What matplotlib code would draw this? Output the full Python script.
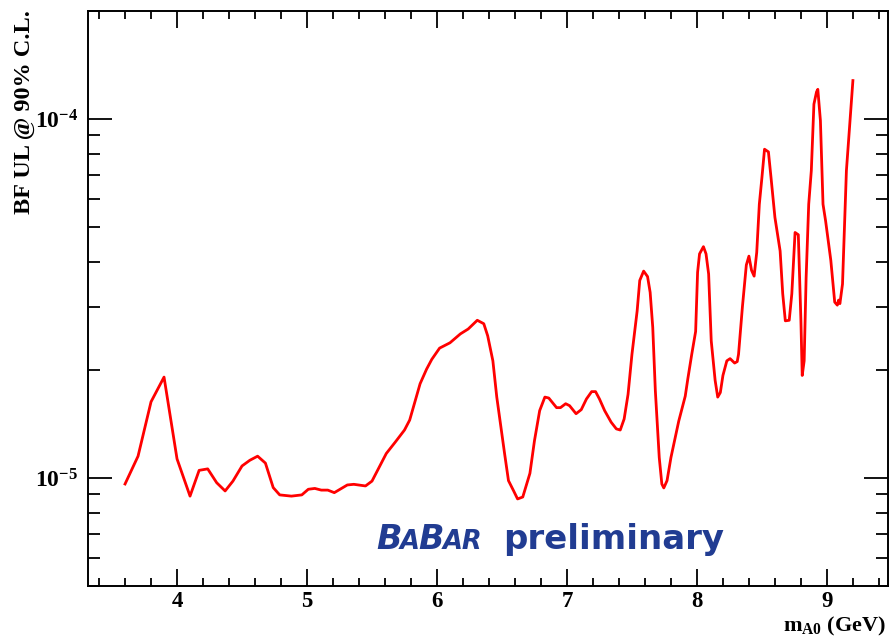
import math
import matplotlib
matplotlib.use("Agg")
import matplotlib.pyplot as plt
from matplotlib.ticker import LogLocator, MultipleLocator, FixedLocator, FuncFormatter, NullFormatter

# m_A0 (GeV)
mass = [3.60, 3.70, 3.80, 3.90, 4.00, 4.10, 4.17, 4.236, 4.305, 4.37,
        4.43, 4.50, 4.56, 4.62, 4.68, 4.74, 4.79, 4.88, 4.96, 5.01,
        5.06, 5.11, 5.16, 5.21, 5.31, 5.36, 5.45, 5.50, 5.61, 5.68,
        5.75, 5.79, 5.87, 5.92, 5.96, 6.02, 6.10, 6.18, 6.24, 6.31,
        6.36, 6.39, 6.43, 6.46, 6.52, 6.55, 6.59, 6.62, 6.66, 6.715,
        6.75, 6.79, 6.83, 6.86, 6.92, 6.95, 6.99, 7.02, 7.07, 7.11,
        7.15, 7.19, 7.22, 7.25, 7.29, 7.34, 7.38, 7.41, 7.44, 7.47,
        7.50, 7.54, 7.56, 7.59, 7.62, 7.64, 7.66, 7.68, 7.71, 7.73,
        7.745, 7.77, 7.80, 7.86, 7.91, 7.93, 7.96, 7.99, 8.005, 8.02,
        8.05, 8.07, 8.09, 8.11, 8.14, 8.16, 8.18, 8.20, 8.23, 8.255,
        8.29, 8.31, 8.32, 8.35, 8.38, 8.40, 8.42, 8.44, 8.46, 8.48,
        8.50, 8.52, 8.55, 8.57, 8.60, 8.64, 8.66, 8.68, 8.71, 8.73,
        8.755, 8.78, 8.80, 8.81, 8.825, 8.84, 8.86, 8.88, 8.90, 8.92,
        8.93, 8.95, 8.97, 8.99, 9.01, 9.03, 9.06, 9.08, 9.09, 9.10,
        9.12, 9.15, 9.20]

# BF upper limit @ 90% C.L.
bf_ul = [9.62e-6, 1.15e-5, 1.63e-5, 1.91e-5, 1.13e-5, 8.9e-6, 1.05e-5, 1.06e-5, 9.7e-6, 9.2e-6,
         9.8e-6, 1.08e-5, 1.12e-5, 1.15e-5, 1.10e-5, 9.4e-6, 8.97e-6, 8.9e-6, 8.97e-6, 9.3e-6,
         9.35e-6, 9.25e-6, 9.25e-6, 9.1e-6, 9.56e-6, 9.6e-6, 9.5e-6, 9.8e-6, 1.17e-5, 1.26e-5,
         1.36e-5, 1.45e-5, 1.83e-5, 2.01e-5, 2.14e-5, 2.30e-5, 2.38e-5, 2.52e-5, 2.60e-5, 2.75e-5,
         2.69e-5, 2.49e-5, 2.12e-5, 1.68e-5, 1.17e-5, 9.83e-6, 9.2e-6, 8.74e-6, 8.85e-6, 1.03e-5,
         1.27e-5, 1.54e-5, 1.68e-5, 1.67e-5, 1.57e-5, 1.57e-5, 1.61e-5, 1.59e-5, 1.51e-5, 1.55e-5,
         1.66e-5, 1.74e-5, 1.74e-5, 1.66e-5, 1.54e-5, 1.43e-5, 1.37e-5, 1.36e-5, 1.46e-5, 1.71e-5,
         2.21e-5, 2.92e-5, 3.55e-5, 3.77e-5, 3.64e-5, 3.29e-5, 2.63e-5, 1.75e-5, 1.14e-5, 9.62e-6,
         9.38e-6, 9.83e-6, 1.14e-5, 1.44e-5, 1.69e-5, 1.89e-5, 2.21e-5, 2.56e-5, 3.74e-5, 4.21e-5,
         4.41e-5, 4.21e-5, 3.70e-5, 2.41e-5, 1.87e-5, 1.68e-5, 1.73e-5, 1.93e-5, 2.12e-5, 2.15e-5,
         2.09e-5, 2.11e-5, 2.21e-5, 3.0e-5, 3.92e-5, 4.15e-5, 3.79e-5, 3.65e-5, 4.25e-5, 5.79e-5,
         6.87e-5, 8.24e-5, 8.1e-5, 6.87e-5, 5.32e-5, 4.29e-5, 3.26e-5, 2.74e-5, 2.75e-5, 3.26e-5,
         4.83e-5, 4.76e-5, 2.74e-5, 1.93e-5, 2.12e-5, 3.61e-5, 5.79e-5, 7.18e-5, 1.10e-4, 1.19e-4,
         1.21e-4, 9.9e-5, 5.79e-5, 5.2e-5, 4.58e-5, 4.04e-5, 3.09e-5, 3.03e-5, 3.13e-5, 3.06e-5,
         3.47e-5, 7.18e-5, 1.28e-4]

x_major = [4, 5, 6, 7, 8, 9]
y_major = [1e-5, 1e-4]

plt.rcParams['font.family'] = ['Liberation Serif', 'DejaVu Serif']
plt.rcParams['font.weight'] = 'bold'
plt.rcParams['mathtext.fontset'] = 'custom'
plt.rcParams['mathtext.rm'] = 'Liberation Serif:bold'
plt.rcParams['mathtext.it'] = 'Liberation Serif:bold'
plt.rcParams['mathtext.bf'] = 'Liberation Serif:bold'

fig = plt.figure(figsize=(8.9, 6.38), dpi=100)
ax = fig.add_axes([88 / 890, 1 - 586 / 638, 800 / 890, 575 / 638])

ax.plot(mass, bf_ul, color='#ff0000', lw=2.0)

ax.set_yscale('log')
ax.set_xlim(3.315, 9.47)
ax.set_ylim(5e-6, 2e-4)

ax.xaxis.set_major_locator(FixedLocator(x_major))
ax.xaxis.set_minor_locator(MultipleLocator(0.2))
ax.yaxis.set_major_locator(FixedLocator(y_major))
ax.yaxis.set_minor_locator(LogLocator(base=10, subs=range(2, 10)))
ax.yaxis.set_minor_formatter(NullFormatter())
ax.xaxis.set_major_formatter(FuncFormatter(lambda v, p: '%d' % v))
ax.yaxis.set_major_formatter(FuncFormatter(lambda v, p: r'$10^{%d}$' % round(math.log10(v))))

ax.tick_params(axis='both', which='both', direction='in', top=True, right=True,
               width=1.3, colors='black')
ax.tick_params(axis='x', which='major', length=12, pad=3.5, labelsize=16.5)
ax.tick_params(axis='x', which='minor', length=6)
ax.tick_params(axis='y', which='major', length=17, pad=7, labelsize=17)
ax.tick_params(axis='y', which='minor', length=8.5)
for s in ax.spines.values():
    s.set_linewidth(1.4)

fig.text(25 / 890, 1 - 10 / 638, 'BF UL @ 90% C.L.', rotation=90, ha='center', va='top',
         fontsize=17.5, fontweight='bold')
fig.text(886 / 890, 1 - 631 / 638, r'$\mathregular{m_{A0}}$ (GeV)', ha='right', va='baseline',
         fontsize=16, fontweight='bold')

# BABAR preliminary
blue = '#213c92'
base_y = 1 - 549 / 638
renderer = fig.canvas.get_renderer()
xpos = 376
for part, size in [('B', 24), ('A', 18.5), ('B', 24), ('AR', 18.5)]:
    t = fig.text(xpos / 890, base_y, part, color=blue, fontsize=size, fontweight='bold',
                 fontstyle='italic', family='DejaVu Sans', va='baseline', ha='left')
    bb = t.get_window_extent(renderer)
    xpos += bb.width - 1.5
fig.text(503 / 890, base_y, 'preliminary', color=blue, fontsize=24.5, fontweight='bold',
         family='DejaVu Sans', va='baseline', ha='left')

fig.savefig('out.png', dpi=100)
